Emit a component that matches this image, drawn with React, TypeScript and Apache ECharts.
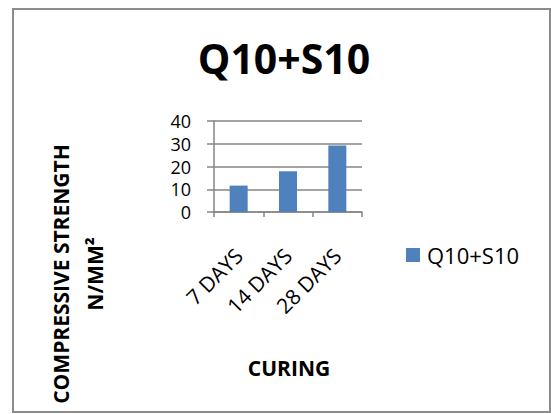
import React, { useEffect, useRef } from "react";
import * as echarts from "echarts";

const categories = ["7 DAYS", "14 DAYS", "28 DAYS"];
const strengthValues = [11.6, 17.9, 29.2];
const seriesName = "Q10+S10";
const chartTitle = "Q10+S10";
const yAxisTitle = "COMPRESSIVE STRENGTH\nN/MM²";
const xAxisTitle = "CURING";

const FONT = "'Open Sans', 'Noto Sans', sans-serif";
const GRID_GRAY = "#868686";

export default function App() {
  const ref = useRef<HTMLDivElement>(null);

  useEffect(() => {
    if (!ref.current) return;
    document.body.style.margin = "0";
    const chart = echarts.init(ref.current, null, { renderer: "svg" });
    chart.setOption({
      animation: false,
      backgroundColor: "#ffffff",
      textStyle: { fontFamily: FONT },
      grid: { left: 214, top: 121, right: 189, bottom: 202 },
      legend: {
        left: 406,
        top: 244,
        padding: 0,
        icon: "rect",
        itemWidth: 14,
        itemHeight: 14,
        itemGap: 8,
        textStyle: { fontFamily: FONT, fontSize: 22, color: "#000", padding: [0, 0, 0, 2] },
        data: [seriesName],
      },
      xAxis: {
        type: "category",
        data: categories,
        axisLine: { show: true, lineStyle: { color: GRID_GRAY, width: 1.5 } },
        axisTick: { show: true, length: 5, lineStyle: { color: GRID_GRAY, width: 1.5 } },
        axisLabel: {
          rotate: 45,
          margin: 40,
          fontFamily: FONT,
          fontSize: 21,
          lineHeight: 22,
          color: "#000",
          interval: 0,
        },
      },
      yAxis: {
        type: "value",
        min: 0,
        max: 40,
        interval: 10,
        axisLine: { show: true, lineStyle: { color: GRID_GRAY, width: 1.5 } },
        axisTick: { show: true, length: 7, lineStyle: { color: GRID_GRAY, width: 1.5 } },
        splitLine: { show: true, lineStyle: { color: GRID_GRAY, width: 1.5 } },
        axisLabel: {
          fontFamily: FONT,
          fontSize: 18,
          lineHeight: 18,
          color: "#000",
          margin: 23,
        },
      },
      series: [
        {
          name: seriesName,
          type: "bar",
          data: strengthValues,
          barWidth: 18,
          itemStyle: { color: "#4F81BD" },
        },
      ],
      graphic: [
        {
          type: "rect",
          shape: { x: 13, y: 9, width: 537, height: 403 },
          style: { fill: "none", stroke: "#8c8c8c", lineWidth: 2 },
          silent: true,
        },
        {
          type: "text",
          x: 284,
          y: 58,
          style: {
            text: chartTitle,
            fontFamily: FONT,
            fontWeight: "bold",
            fontSize: 41,
            fill: "#000",
            align: "center",
            verticalAlign: "middle",
          },
        },
        {
          type: "text",
          x: 78,
          y: 274,
          rotation: Math.PI / 2,
          style: {
            text: yAxisTitle,
            fontFamily: FONT,
            fontWeight: "bold",
            fontSize: 21,
            lineHeight: 34,
            fill: "#000",
            align: "center",
            verticalAlign: "middle",
          },
        },
        {
          type: "text",
          x: 289,
          y: 368,
          style: {
            text: xAxisTitle,
            fontFamily: FONT,
            fontWeight: "bold",
            fontSize: 21,
            fill: "#000",
            align: "center",
            verticalAlign: "middle",
          },
        },
      ],
    });
    return () => chart.dispose();
  }, []);

  return <div ref={ref} style={{ width: 551, height: 414 }} />;
}
